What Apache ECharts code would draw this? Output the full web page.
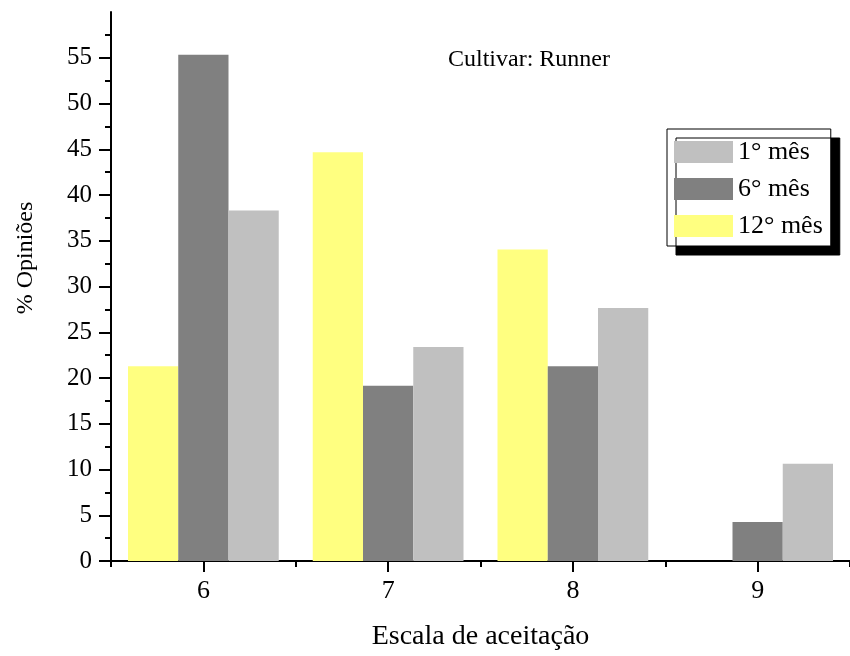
<!DOCTYPE html>
<html>
<head>
<meta charset="utf-8">
<title>Cultivar: Runner</title>
<script src="https://cdn.jsdelivr.net/npm/echarts@6/dist/echarts.min.js"></script>
<style>
  html, body { margin: 0; padding: 0; background: #fff; overflow: hidden; }
  #chart { width: 850px; height: 656px; }
</style>
</head>
<body>
<div id="chart"></div>
<script>
// Acceptance scale categories (x axis)
const categories = ['6', '7', '8', '9'];

// Percentage of opinions per month of storage
const month12 = [21.28, 44.68, 34.04, 0];
const month6 = [55.32, 19.15, 21.28, 4.26];
const month1 = [38.30, 23.40, 27.66, 10.64];

// Labelled y ticks
const yTicks = [0, 5, 10, 15, 20, 25, 30, 35, 40, 45, 50, 55];

const seriesNames = ['1° mês', '6° mês', '12° mês'];
const colors = { '1° mês': '#C0C0C0', '6° mês': '#808080', '12° mês': '#FFFF80' };

const FONT = '"Liberation Serif", "Times New Roman", serif';

const chart = echarts.init(document.getElementById('chart'), null, { renderer: 'canvas' });

function bar(name, data) {
  return {
    name: name,
    type: 'bar',
    xAxisIndex: 0,
    data: data,
    barGap: '0%',
    barCategoryGap: '18.4%',
    itemStyle: { color: colors[name] },
    emphasis: { disabled: true },
    animation: false
  };
}

chart.setOption({
  backgroundColor: '#fff',
  animation: false,
  grid: { left: 111, width: 745, top: 12, bottom: 92, containLabel: false },
  legend: {
    data: seriesNames,
    orient: 'vertical',
    left: 667,
    top: 129,
    icon: 'rect',
    itemWidth: 59,
    itemHeight: 22,
    itemGap: 11,
    padding: [10, 8, 7, 7],
    backgroundColor: '#fff',
    borderColor: '#000',
    borderWidth: 1,
    borderRadius: 0,
    shadowColor: '#000',
    shadowBlur: 0,
    shadowOffsetX: 9,
    shadowOffsetY: 9,
    selectedMode: false,
    textStyle: { fontFamily: FONT, fontSize: 26, lineHeight: 22, color: '#000' }
  },
  xAxis: [
    {
      type: 'category',
      data: categories,
      position: 'bottom',
      boundaryGap: true,
      name: 'Escala de aceitação',
      nameLocation: 'middle',
      nameGap: 62,
      nameTextStyle: { fontFamily: FONT, fontSize: 28, color: '#000' },
      axisLine: { onZero: false, lineStyle: { color: '#000', width: 2 } },
      axisTick: { show: true, length: 6, lineStyle: { color: '#000', width: 2 } },
      axisLabel: { fontFamily: FONT, fontSize: 26, color: '#000', margin: 17 },
      splitLine: { show: false }
    },
    {
      type: 'category',
      data: categories,
      position: 'bottom',
      boundaryGap: true,
      axisLine: { show: false, onZero: false },
      axisTick: { show: true, alignWithLabel: true, length: 11, lineStyle: { color: '#000', width: 2 } },
      axisLabel: { show: false },
      splitLine: { show: false }
    }
  ],
  yAxis: {
    type: 'value',
    min: 0,
    max: 60,
    interval: 5,
    axisLine: { show: true, lineStyle: { color: '#000', width: 2 } },
    axisTick: { show: true, length: 12, customValues: yTicks, lineStyle: { color: '#000', width: 2 } },
    minorTick: { show: true, splitNumber: 2, length: 6, lineStyle: { color: '#000', width: 2 } },
    axisLabel: { fontFamily: FONT, fontSize: 25, color: '#000', margin: 19, customValues: yTicks },
    splitLine: { show: false }
  },
  graphic: [
    {
      type: 'text',
      x: 448,
      y: 60,
      style: {
        text: 'Cultivar: Runner',
        font: '24px ' + FONT,
        fill: '#000',
        textAlign: 'left',
        textVerticalAlign: 'middle'
      }
    },
    {
      type: 'text',
      x: 26,
      y: 258,
      rotation: Math.PI / 2,
      style: {
        text: '% Opiniões',
        font: '24px ' + FONT,
        fill: '#000',
        textAlign: 'center',
        textVerticalAlign: 'middle'
      }
    }
  ],
  series: [
    bar('12° mês', month12),
    bar('6° mês', month6),
    bar('1° mês', month1)
  ]
});
</script>
</body>
</html>
